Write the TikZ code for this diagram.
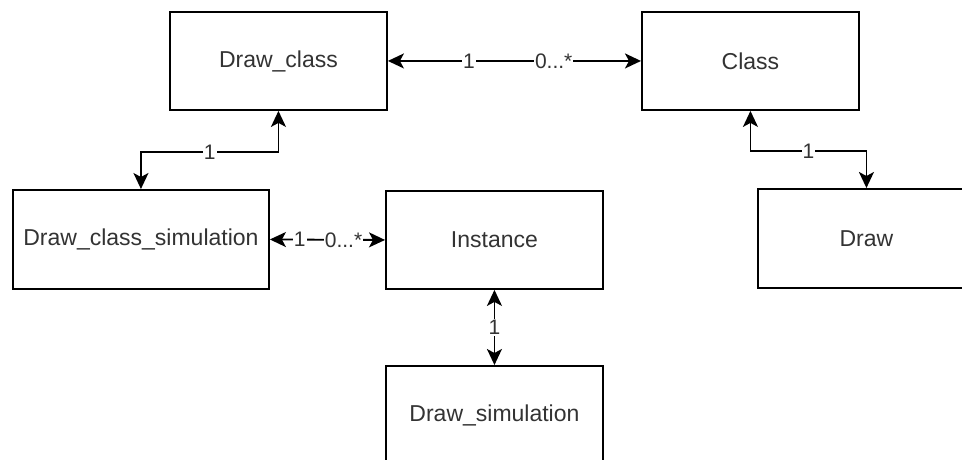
\documentclass[tikz,border=0pt]{standalone}
\usepackage{fontspec}
\setmainfont{Liberation Sans}
\usetikzlibrary{arrows.meta}
\definecolor{txt}{HTML}{333333}
\begin{document}
\begin{tikzpicture}[x=1pt,y=1pt,
  box/.style={draw=black, line width=1.9pt, fill=white, text=txt, font=\fontsize{23}{27}\selectfont, anchor=north west, inner sep=0pt},
  tip/.style={Stealth[length=16pt,width=15pt,inset=4pt]},
  conn/.style={line width=1.8pt, {Stealth[length=16pt,width=15pt,inset=4pt]}-{Stealth[length=16pt,width=15pt,inset=4pt]}},
  lab/.style={fill=white, text=txt, font=\fontsize{21}{25}\selectfont, inner sep=1pt}]
\useasboundingbox (0,0) rectangle (962,-459);
\clip (0,0) rectangle (962,-459);
\node[box, minimum width=217pt, minimum height=98pt] (dc) at (169,-11) {Draw\_class};
\node[box, minimum width=217pt, minimum height=98pt] (cl) at (641,-11) {Class};
\node[box, minimum width=256pt, minimum height=99pt] (dcs) at (12,-189) {Draw\_class\_simulation};
\node[box, minimum width=217pt, minimum height=98pt] (in) at (385,-190) {Instance};
\node[box, minimum width=217pt, minimum height=99pt] (dr) at (757,-188) {Draw};
\node[box, minimum width=217pt, minimum height=99pt] (ds) at (385,-365) {Draw\_simulation};
\draw[conn] (dc.east) -- (cl.west)
  node[lab, pos=0.32] {1} node[lab, pos=0.655] {0...*};
\draw[conn] (dc.south) |- ([yshift=-41pt]dc.south -| dcs.north) node[lab, pos=0.75] {1} -- (dcs.north);
\draw[conn] (cl.south) |- ([yshift=-40pt]cl.south -| dr.north) node[lab, pos=0.75] {1} -- (dr.north);
\draw[conn] (dcs.east) -- (in.west)
  node[lab, pos=0.26] {1} node[lab, pos=0.64] {0...*};
\draw[conn] (in.south) -- (ds.north) node[lab, midway] {1};
\end{tikzpicture}
\end{document}
